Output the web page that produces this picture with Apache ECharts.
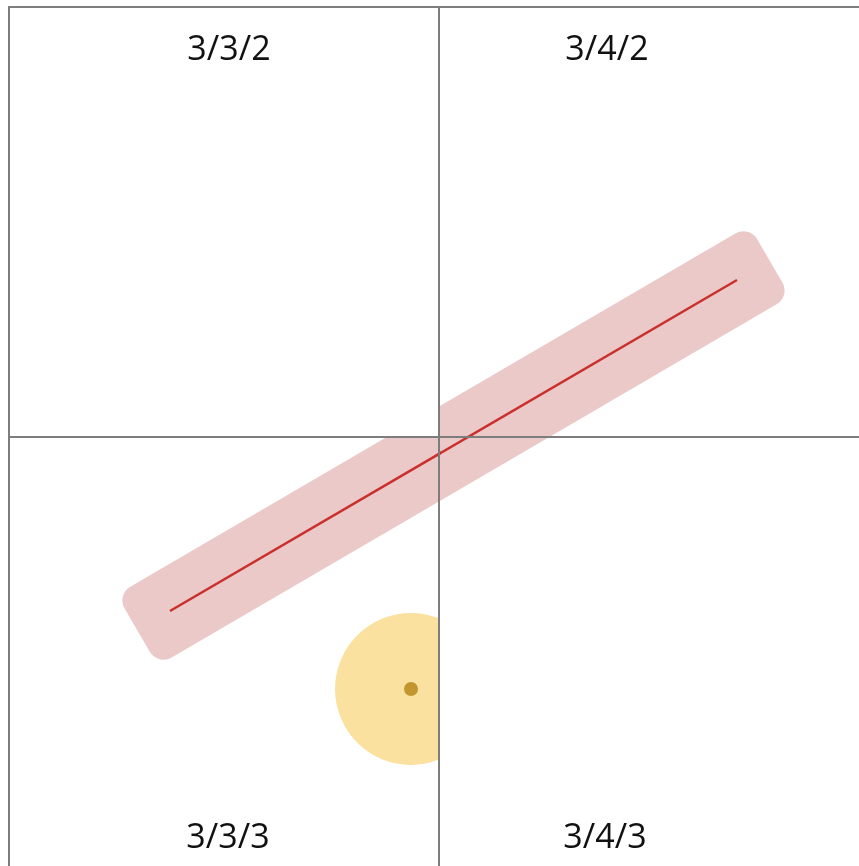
<!DOCTYPE html>
<html>
<head>
<meta charset="utf-8">
<script src="https://cdn.jsdelivr.net/npm/echarts@6/dist/echarts.min.js"></script>
<style>
html,body{margin:0;padding:0;background:#fff;}
#c{width:859px;height:866px;}
</style>
</head>
<body>
<div id="c"></div>
<script>
// ---- data (tile coordinates: x = tile column, y = tile row) ----
const tileLabels = ['3/3/2', '3/4/2', '3/3/3', '3/4/3'];
const tileCols = [3, 4, 3, 4];
const tileRows = [2, 2, 3, 3];
const lineStart = [3.3744, 3.4047];
const lineEnd = [4.6930, 2.6349];
const bandTiles = [false, true, true, true];   // tiles where the wide halo was drawn
const circleCenter = [3.9349, 3.5860];
const circleRadius = 0.1767;                    // in tile units
const circleTiles = [false, false, true, false];

const chart = echarts.init(document.getElementById('c'), null, {renderer: 'canvas'});

const W = 859, H = 866, TILE = 430, OX = 9, OY = 7;
const grids = [], xAxes = [], yAxes = [], series = [];
const axisLine = {show: true, onZero: false, lineStyle: {color: '#7d7d7d', width: 2}};
tileLabels.forEach((lab, i) => {
  const c = tileCols[i] - 3, r = tileRows[i] - 2;
  const left = OX + c * TILE, top = OY + r * TILE;
  const w = Math.min(TILE, W - left), h = Math.min(TILE, H - top);
  grids.push({left: left, top: top, width: w, height: h, show: false});
  xAxes.push({type: 'value', gridIndex: i, min: tileCols[i], max: tileCols[i] + w / TILE,
    position: 'top', z: 10, axisLine: axisLine, axisTick: {show: false}, axisLabel: {show: false}, splitLine: {show: false}});
  yAxes.push({type: 'value', gridIndex: i, min: tileRows[i], max: tileRows[i] + h / TILE, inverse: true,
    position: 'left', z: 10, axisLine: axisLine, axisTick: {show: false}, axisLabel: {show: false}, splitLine: {show: false}});

  if (bandTiles[i]) {
    series.push({
      type: 'custom', xAxisIndex: i, yAxisIndex: i, clip: true, z: 2, silent: true,
      data: [[lineStart[0], lineStart[1], lineEnd[0], lineEnd[1]]],
      encode: {x: [0, 2], y: [1, 3]},
      renderItem: function (params, api) {
        const p1 = api.coord([api.value(0), api.value(1)]);
        const p2 = api.coord([api.value(2), api.value(3)]);
        const dx = p2[0] - p1[0], dy = p2[1] - p1[1];
        const L = Math.sqrt(dx * dx + dy * dy);
        const half = 41, ext = 38;
        return {
          type: 'rect',
          x: (p1[0] + p2[0]) / 2, y: (p1[1] + p2[1]) / 2,
          rotation: Math.atan2(-dy, dx),
          shape: {x: -L / 2 - ext, y: -half, width: L + 2 * ext, height: 2 * half, r: 16},
          style: {fill: '#ebc9c9'}
        };
      }
    });
  }
  if (circleTiles[i]) {
    series.push({
      type: 'custom', xAxisIndex: i, yAxisIndex: i, clip: true, z: 3, silent: true,
      data: [[circleCenter[0], circleCenter[1], circleRadius]],
      encode: {x: 0, y: 1},
      renderItem: function (params, api) {
        const p = api.coord([api.value(0), api.value(1)]);
        const rr = api.size([api.value(2), api.value(2)])[0];
        return {
          type: 'group',
          children: [
            {type: 'circle', shape: {cx: p[0], cy: p[1], r: rr}, style: {fill: '#fae1a0'}},
            {type: 'circle', shape: {cx: p[0], cy: p[1], r: 7}, style: {fill: '#c3952f'}}
          ]
        };
      }
    });
  }
  series.push({
    type: 'line', xAxisIndex: i, yAxisIndex: i, clip: true, z: 4, silent: true,
    symbol: 'none', animation: false,
    data: [lineStart, lineEnd],
    lineStyle: {color: '#c9302c', width: 2.5, cap: 'butt'}
  });
});

const labelPos = [[229, 50], [607, 50], [228, 838], [605, 838]];
const graphics = tileLabels.map((t, i) => ({
  type: 'text', x: labelPos[i][0], y: labelPos[i][1], z: 20,
  style: {text: t, font: '34px "Open Sans"', fill: '#111111', textAlign: 'center', textVerticalAlign: 'middle'}
}));

chart.setOption({
  animation: false,
  grid: grids, xAxis: xAxes, yAxis: yAxes, series: series, graphic: graphics
});
</script>
</body>
</html>
